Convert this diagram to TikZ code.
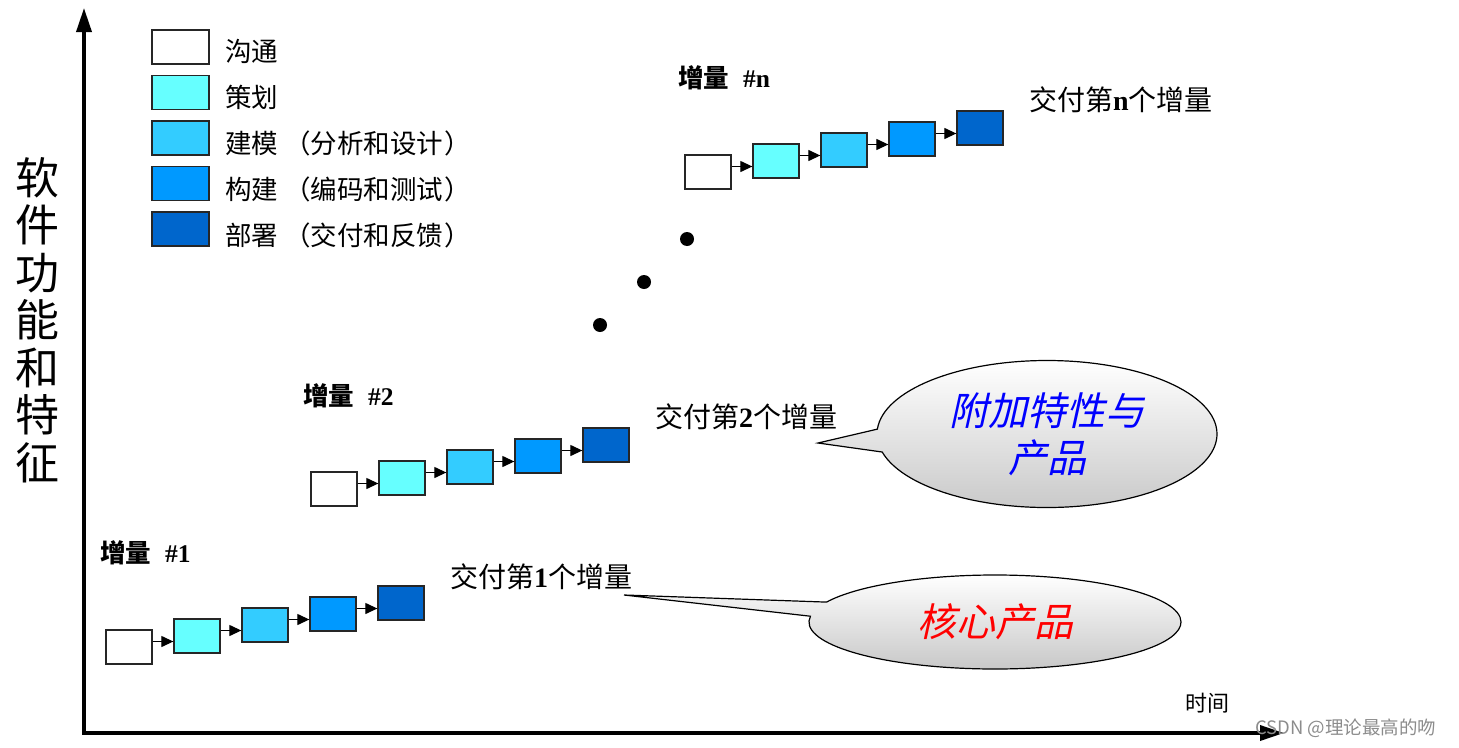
\documentclass[tikz,border=0pt]{standalone}
\usepackage{fontspec}
\setmainfont{Liberation Serif}
\newfontfamily\cjk{Noto Sans CJK SC}
\newfontfamily\cjkit[FakeSlant=0.22]{Noto Sans CJK SC}
\usetikzlibrary{arrows.meta,shapes.geometric,shapes.callouts}
\definecolor{c0}{HTML}{FFFFFF}
\definecolor{c1}{HTML}{66FFFF}
\definecolor{c2}{HTML}{33CCFF}
\definecolor{c3}{HTML}{0099FF}
\definecolor{c4}{HTML}{0066CC}
\newcommand\lp{\hspace{0.22em}（}
\newcommand\rp{\hspace{0.06em}）}
\tikzset{
  box/.style={draw=black!85, line width=1.3pt, minimum width=46pt, minimum height=34pt, inner sep=0pt},
  legbox/.style={draw=black!85, line width=1.3pt, minimum width=57pt, minimum height=34pt, inner sep=0pt},
  link/.style={draw, line width=1.2pt, -{Triangle[length=12pt,width=11pt]}},
  axis/.style={line width=3.5pt, {Triangle[length=24pt,width=15pt]}-{Triangle[length=24pt,width=15pt]}},
  legtext/.style={anchor=west, inner sep=0pt, font=\cjk\fontsize{26.5}{30}\selectfont},
  inclabel/.style={anchor=west, inner sep=0pt, font=\cjk\bfseries\fontsize{25.5}{30}\selectfont},
  deliver/.style={anchor=west, inner sep=0pt, font=\cjk\fontsize{28}{32}\selectfont},
  dot/.style={circle, fill=black, minimum size=14pt, inner sep=0pt},
  bubble/.style={ellipse callout, draw=black, line width=1.2pt, top color=white, bottom color=black!22, inner sep=0pt, align=center, callout pointer arc=18}
}
\begin{document}
\begin{tikzpicture}[x=1pt,y=-1pt]
\useasboundingbox (0,0) rectangle (1459,747);
% axes
\coordinate (ytop) at (84,8);
\coordinate (O) at (84,733);
\coordinate (xend) at (1284,733);
\draw[axis] (ytop) -- (O) -- (xend);
\node[inner sep=0pt, align=center, font=\cjk\fontsize{44}{47.5}\selectfont] (ylab) at (37,320) {软\\件\\功\\能\\和\\特\\征};
\node[inner sep=0pt, font=\cjk\fontsize{22}{26}\selectfont] (xlab) at (1207,703) {时间};
% legend
\foreach \i/\c/\t [count=\k from 0] in {0/c0/沟通, 1/c1/策划, 2/c2/建模\lp 分析和设计\rp, 3/c3/构建\lp 编码和测试\rp, 4/c4/部署\lp 交付和反馈\rp} {
  \node[legbox, fill=\c] (lg\i) at (180.5, 47+45.5*\k) {};
  \node[legtext] (lt\i) at (225, 51+46*\k) {\t};
}
% increments
\foreach \inc/\x/\y in {1/129/647, 2/334/489, n/708/172} {
  \foreach \i/\c in {0/c0,1/c1,2/c2,3/c3,4/c4} {
    \node[box, fill=\c] (b\inc-\i) at (\x+68*\i, \y-11*\i) {};
  }
  \foreach \i/\j in {0/1,1/2,2/3,3/4} {
    \path (b\inc-\i.east) -- (b\inc-\j.west) coordinate[pos=.5] (m\inc-\i);
    \draw[link] (b\inc-\i.east |- m\inc-\i) -- (b\inc-\j.west |- m\inc-\i);
  }
}
% labels
\node[inclabel] (l1) at (100,553) {增量\hspace{0.55em}{\fontspec{Liberation Serif}\bfseries \#1}};
\node[inclabel] (l2) at (303,396) {增量\hspace{0.55em}{\fontspec{Liberation Serif}\bfseries \#2}};
\node[inclabel] (ln) at (678,78) {增量\hspace{0.55em}{\fontspec{Liberation Serif}\bfseries \#n}};
\node[deliver] (d1) at (450,577) {交付第{\fontspec{Liberation Serif}\bfseries 1}个增量};
\node[deliver] (d2) at (655,417) {交付第{\fontspec{Liberation Serif}\bfseries 2}个增量};
\node[deliver] (dn) at (1029,100) {交付第{\fontspec{Liberation Serif}\bfseries n}个增量};
% dots
\node[dot] (p1) at (600,325) {};
\node[dot] (p2) at (644,282) {};
\node[dot] (p3) at (687,239) {};
% callouts
\coordinate (tip1) at (624,595);
\coordinate (tip2) at (818,443);
\node[bubble, minimum width=372pt, minimum height=94pt, callout absolute pointer={(tip1)},
  font=\cjkit\fontsize{39}{46}\selectfont, text=red] (k1) at (995,622) {核心产品};
\node[bubble, minimum width=340pt, minimum height=147pt, callout absolute pointer={(tip2)},
  font=\cjkit\fontsize{39}{47}\selectfont, text=blue] (k2) at (1047,434) {\raisebox{-4pt}{附加特性与}\\\raisebox{-4pt}{产品}};
% watermark
\node[inner sep=0pt, anchor=west, text=black!45, font=\cjk\fontsize{18.5}{20}\selectfont] (wm) at (1255,728) {CSDN @理论最高的吻};
\end{tikzpicture}
\end{document}
